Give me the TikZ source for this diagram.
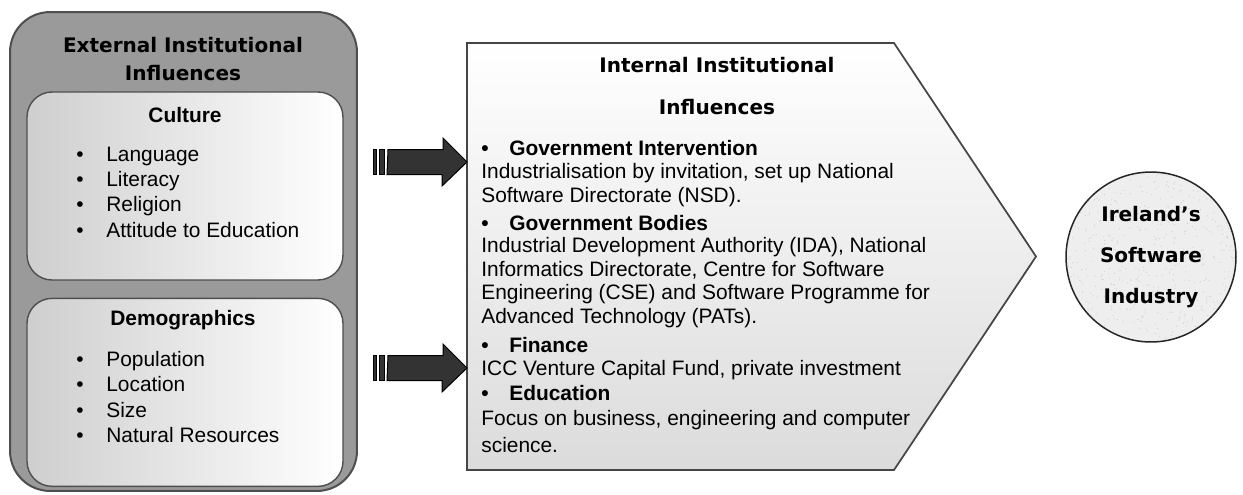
\documentclass[tikz,border=0pt]{standalone}
\usepackage{fontspec}
\setmainfont{Liberation Sans}
\newfontfamily\headfont{DejaVu Sans}
\usetikzlibrary{positioning, backgrounds}
\definecolor{boxgray}{HTML}{9A9A9A}
\definecolor{edgegray}{HTML}{4E4E4E}
\definecolor{arrowgray}{HTML}{333333}
\tikzset{
    outerbox/.style={
        draw = edgegray, fill = boxgray,
        line width = 0.4mm, rounded corners = 8mm,
        minimum width = 69.4mm, minimum height = 95.8mm
    },
    groupbox/.style={
        draw = edgegray, line width = 0.28mm, rounded corners = 5mm,
        left color = gray!38, middle color = gray!4, right color = white,
        minimum width = 63.2mm, minimum height = 37.6mm
    },
    heading/.style = {font = \headfont\bfseries\fontsize{11.4}{15.9}\selectfont, align = center, inner sep = 0pt},
    subhead/.style = {font = \bfseries\fontsize{11.9}{14}\selectfont, inner sep = 0pt},
    listtext/.style = {font = \fontsize{11.9}{14.4}\selectfont, align = left, anchor = west, inner sep = 0pt},
    intext/.style = {font = \fontsize{11.9}{13.5}\selectfont, align = left, anchor = west, inner sep = 0pt},
    blockarrow/.style = {fill = arrowgray, draw = black, line width = 0.2mm},
    hub/.style = {circle, draw = gray!30!black, line width = 0.3mm, minimum size = 34mm,
        font = \headfont\bfseries\fontsize{11.4}{23.3}\selectfont, align = center}
}
\newcommand{\bul}[1]{\makebox[#1][l]{\textbullet}}

\begin{document}
\begin{tikzpicture}[x=0.02cm, y=-0.02cm]

    \useasboundingbox (0,0) rectangle (1243,494);

    % External influences
    \node[outerbox] (external) at (183.5,251.5) {};
    \node[heading] (externalTitle) at (183,59) {External Institutional\\Influences};

    \node[groupbox] (culture) at (185,186) {};
    \node[groupbox, below = 3.4mm of culture] (demographics) {};

    \node[subhead] (cultureTitle) at (185,115) {Culture};
    \node[listtext] (cultureList) at (76,192) {%
        \bul{6mm}Language\\ \bul{6mm}Literacy\\ \bul{6mm}Religion\\ \bul{6mm}Attitude to Education};

    \node[subhead] (demoTitle) at (183,320) {Demographics};
    \node[listtext] (demoList) at (76,397) {%
        \bul{6mm}Population\\ \bul{6mm}Location\\ \bul{6mm}Size\\ \bul{6mm}Natural Resources};

    % Internal influences
    \draw[draw = gray!55!black, line width = 0.35mm, top color = white, bottom color = gray!28]
        (467,43) coordinate (inNW) -- (894,43) -- (1036,256.5) coordinate (inTip)
        -- (894,470) -- (467,470) coordinate (inSW) -- cycle;

    \node[heading, font = \headfont\bfseries\fontsize{11.4}{23.9}\selectfont] (internalTitle) at (717,86)
        {Internal Institutional\\Influences};

    \node[intext, font = \bfseries\fontsize{11.9}{13.5}\selectfont] (govInt) at (481,148) {\bul{5.6mm}Government Intervention};
    \node[intext] (govIntText) at (481,185) {Industrialisation by invitation, set up National\\Software Directorate (NSD).};
    \node[intext, font = \bfseries\fontsize{11.9}{13.5}\selectfont] (govBodies) at (481,223) {\bul{5.6mm}Government Bodies};
    \node[intext] (govBodiesText) at (481,282.5) {Industrial Development Authority (IDA), National\\Informatics Directorate, Centre for Software\\Engineering (CSE) and Software Programme for\\Advanced Technology (PATs).};
    \node[intext, font = \bfseries\fontsize{11.9}{13.5}\selectfont] (finance) at (481,345) {\bul{5.6mm}Finance};
    \node[intext] (financeText) at (481,370) {ICC Venture Capital Fund, private investment};
    \node[intext, font = \bfseries\fontsize{11.9}{13.5}\selectfont] (education) at (481,393) {\bul{5.6mm}Education};
    \node[intext] (educationText) at (481,431.5) {Focus on business, engineering and computer\\[1.5pt]science.};

    % Arrows into the internal block
    \coordinate (tailA) at (388,162);
    \coordinate (tailB) at (388,368);

    \path[blockarrow] (tailA) ++(0,-12.5) -- ++(55,0) -- ++(0,-11.5) -- (inNW |- tailA)
        -- ++(-25,24) -- ++(0,-11.5) -- ++(-55,0) -- cycle;
    \fill[arrowgray, draw = black, line width = 0.15mm] (tailA) ++(-15,-12.5) rectangle ++(3.5,25);
    \fill[arrowgray, draw = black, line width = 0.15mm] (tailA) ++(-9,-12.5) rectangle ++(5.5,25);

    \path[blockarrow] (tailB) ++(0,-12.5) -- ++(55,0) -- ++(0,-11.5) -- (inNW |- tailB)
        -- ++(-25,24) -- ++(0,-11.5) -- ++(-55,0) -- cycle;
    \fill[arrowgray, draw = black, line width = 0.15mm] (tailB) ++(-15,-12.5) rectangle ++(3.5,25);
    \fill[arrowgray, draw = black, line width = 0.15mm] (tailB) ++(-9,-12.5) rectangle ++(5.5,25);

    % Industry
    \node[hub] (industry) at (1151,257) {Ireland’s\\Software\\Industry};
    \begin{scope}[on background layer]
        \fill[gray!13] (industry.center) circle (17mm);
        \clip (industry.center) circle (17mm);
        \pgfmathsetseed{11}
        \foreach \i in {1,...,600} {
            \fill[gray!38] (1151+85*rand, 257+85*rand) circle (0.12mm);
        }
    \end{scope}

\end{tikzpicture}
\end{document}
